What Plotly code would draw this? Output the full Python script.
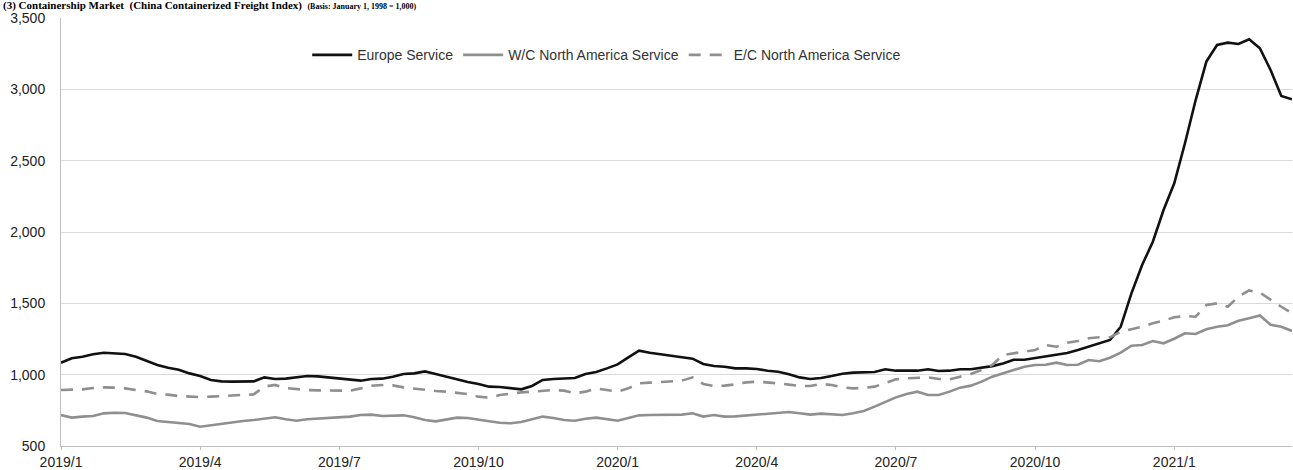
import plotly.graph_objects as go
import pandas as pd

# Weekly categories (CCFI, weekly)
weeks = [d.strftime("%Y-%m-%d") for d in pd.date_range("2019-01-04", periods=116, freq="7D")]
tick_idx = [0, 13, 26, 39, 52, 65, 78, 91, 104]
tick_labels = ["2019/1", "2019/4", "2019/7", "2019/10", "2020/1", "2020/4", "2020/7", "2020/10", "2021/1"]

europe = [1084, 1115, 1126, 1143, 1154, 1152, 1145, 1126, 1096, 1068, 1049, 1035, 1009, 991, 963, 953, 951, 951, 953, 981,
          970, 972, 984, 991, 988, 981, 972, 970, 958, 970, 972, 986, 1005, 1009, 1023, 1005, 986, 967, 949, 935,
          916, 914, 907, 897, 921, 963, 970, 972, 977, 1005, 1019, 1044, 1072, 1121, 1168, 1154, 1143, 1133, 1124, 1112,
          1075, 1061, 1056, 1044, 1044, 1040, 1028, 1021, 1003, 981, 970, 977, 991, 1007, 1014, 1014, 1019, 1038, 1028, 1028,
          1028, 1038, 1026, 1028, 1038, 1038, 1049, 1060, 1079, 1105, 1105, 1117, 1133, 1140, 1152, 1173, 1196, 1222, 1243, 1336,
          1570, 1769, 1932, 2154, 2341, 2622, 2925, 3194, 3311, 3327, 3318, 3351, 3288, 3136, 2953, 2930]

wc_na = [717, 699, 706, 710, 729, 733, 731, 717, 699, 675, 668, 663, 654, 635, 645, 656, 668, 675, 682, 691,
         701, 687, 677, 687, 691, 698, 701, 706, 717, 720, 710, 715, 715, 701, 682, 673, 687, 699, 696, 687,
         673, 663, 659, 668, 687, 706, 696, 682, 677, 691, 699, 689, 677, 696, 715, 717, 717, 717, 720, 729,
         706, 717, 706, 708, 713, 722, 727, 733, 738, 729, 720, 727, 724, 717, 729, 745, 776, 806, 841, 864,
         881, 857, 857, 881, 909, 923, 951, 986, 1009, 1037, 1056, 1068, 1070, 1084, 1068, 1070, 1103, 1094, 1119, 1154,
         1203, 1208, 1236, 1220, 1252, 1290, 1285, 1318, 1336, 1346, 1378, 1395, 1415, 1350, 1336, 1306]

ec_na = [892, 892, 897, 906, 911, 909, 904, 892, 883, 864, 860, 850, 846, 843, 846, 850, 853, 860, 862, 916,
         928, 906, 897, 892, 890, 888, 885, 888, 904, 922, 928, 925, 911, 902, 892, 886, 881, 874, 864, 846,
         839, 857, 869, 876, 881, 886, 892, 888, 869, 881, 904, 892, 881, 904, 939, 944, 949, 953, 958, 981,
         935, 921, 923, 932, 946, 951, 946, 939, 930, 921, 921, 935, 928, 911, 904, 907, 916, 939, 967, 974,
         975, 981, 970, 967, 986, 1005, 1033, 1068, 1138, 1150, 1166, 1173, 1208, 1196, 1224, 1236, 1255, 1262, 1262, 1301,
         1318, 1336, 1360, 1378, 1402, 1411, 1406, 1488, 1500, 1476, 1547, 1590, 1575, 1523, 1476, 1430]

FONT = "Liberation Sans Narrow, Liberation Sans, Arial, sans-serif"

fig = go.Figure()
fig.add_trace(go.Scatter(x=weeks, y=europe, mode="lines", name="Europe Service",
                         line=dict(color="#111111", width=2.6)))
fig.add_trace(go.Scatter(x=weeks, y=wc_na, mode="lines", name="W/C North America Service",
                         line=dict(color="#8f8f8f", width=2.6)))
fig.add_trace(go.Scatter(x=weeks, y=ec_na, mode="lines", name="E/C North America Service",
                         line=dict(color="#8f8f8f", width=2.6, dash="12px,9px")))

fig.update_layout(
    width=1293, height=470, autosize=False,
    margin=dict(l=61, r=1, t=18, b=24),
    paper_bgcolor="white", plot_bgcolor="white",
    font=dict(family=FONT, size=14, color="#222222"),
    showlegend=True,
    legend=dict(orientation="h", x=0.2, xanchor="left", y=0.913, yanchor="middle",
                font=dict(family=FONT, size=14, color="#333333"),
                itemwidth=40, bgcolor="rgba(0,0,0,0)", traceorder="normal"),
    annotations=[dict(
        text="<b>(3) Containership Market  (China Containerized Freight Index)</b>  "
             "<span style='font-size:8px'><b>(Basis: January 1, 1998 = 1,000)</b></span>",
        xref="paper", yref="paper", x=(1 - 61) / 1231, y=1 + 12.5 / 428,
        xanchor="left", yanchor="middle", showarrow=False,
        font=dict(family="Liberation Serif, Times New Roman, serif", size=11, color="#000000"))],
)

fig.update_xaxes(type="category", range=[0, len(weeks) - 1],
                 tickmode="array", tickvals=[weeks[i] for i in tick_idx], ticktext=tick_labels,
                 showgrid=False, showline=True, linecolor="#bfbfbf", linewidth=1,
                 ticks="outside", ticklen=3, tickcolor="#bfbfbf",
                 tickfont=dict(family=FONT, size=14, color="#222222"), zeroline=False)
fig.update_yaxes(range=[500, 3500], dtick=500, tickformat=",",
                 showgrid=True, gridcolor="#d9d9d9", gridwidth=1,
                 showline=True, linecolor="#bfbfbf", linewidth=1,
                 ticks="", ticklabelstandoff=12,
                 tickfont=dict(family=FONT, size=14, color="#222222"), zeroline=False)

fig.write_html("out.html", config={"displayModeBar": False},
               post_script="document.body.style.margin='0';")
